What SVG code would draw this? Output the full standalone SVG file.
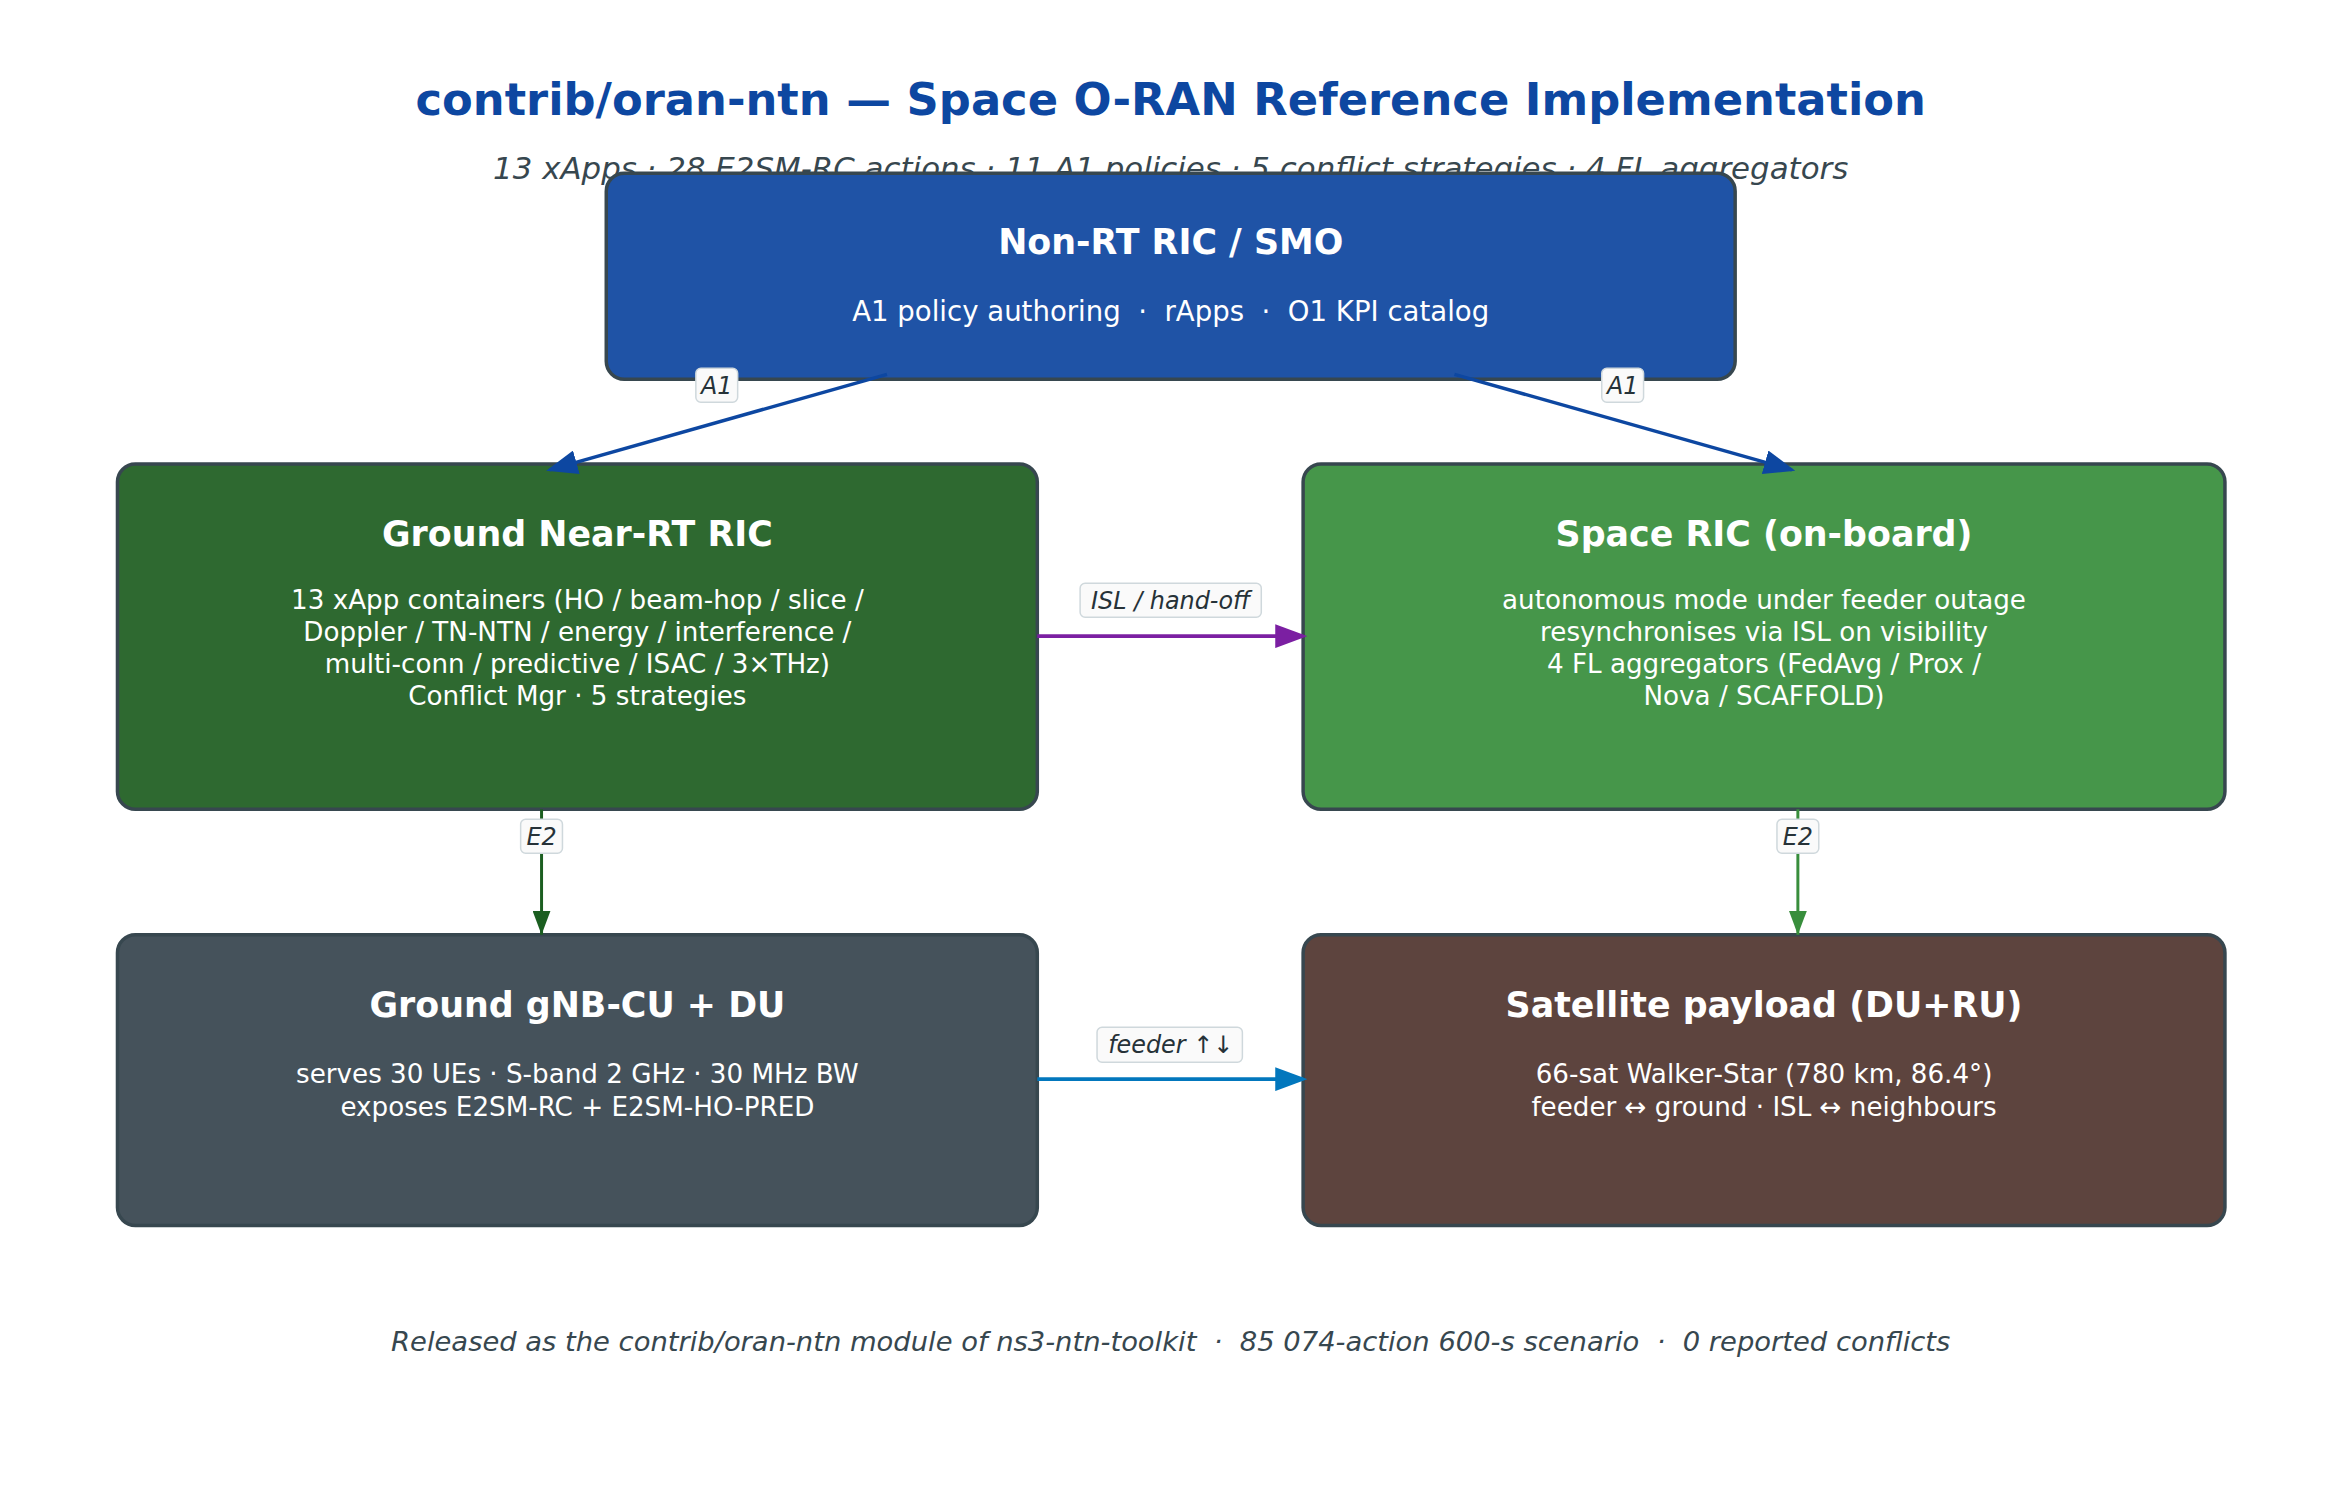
<svg xmlns="http://www.w3.org/2000/svg" width="2340" height="1494" viewBox="0 0 2340 1494">
<style>
text{font-family:"DejaVu Sans",sans-serif;text-anchor:middle}
.box{stroke:#37474f;stroke-width:3.5}
.h{fill:#fff;font-weight:bold;font-size:35px}
.b{fill:#fff;font-size:26.3px}
.lbl{fill:#fafafa;stroke:#cfd8dc;stroke-width:1.5}
.lt{font-style:italic;font-size:24px;fill:#263238}
</style>
<defs>
<marker id="mb" markerWidth="9" markerHeight="7" refX="8" refY="3.5" orient="auto" markerUnits="strokeWidth"><path d="M0,0L9,3.5L0,7z" fill="#0d47a1"/></marker>
<marker id="mp" markerWidth="8" markerHeight="6" refX="7" refY="3" orient="auto" markerUnits="strokeWidth"><path d="M0,0L8,3L0,6z" fill="#7b1fa2"/></marker>
<marker id="mc" markerWidth="8" markerHeight="6" refX="7" refY="3" orient="auto" markerUnits="strokeWidth"><path d="M0,0L8,3L0,6z" fill="#0277bd"/></marker>
<marker id="mg" markerWidth="8" markerHeight="6" refX="8" refY="3" orient="auto" markerUnits="strokeWidth"><path d="M0,0L8,3L0,6z" fill="#1b5e20"/></marker>
<marker id="mg2" markerWidth="8" markerHeight="6" refX="8" refY="3" orient="auto" markerUnits="strokeWidth"><path d="M0,0L8,3L0,6z" fill="#388e3c"/></marker>
</defs>
<rect width="2340" height="1494" fill="#fff"/>
<g transform="scale(0.9955)">
<text x="1176" y="116" style="font-weight:bold;font-size:45px;fill:#0d47a1">contrib/oran-ntn — Space O-RAN Reference Implementation</text>
<text x="1176" y="180" style="font-style:italic;font-size:31px;fill:#37474f">13 xApps · 28 E2SM-RC actions · 11 A1 policies · 5 conflict strategies · 4 FL aggregators</text>
<g id="nonrt"><rect class="box" x="609" y="174" width="1134" height="207" rx="18" fill="#1f53a6"/>
<text class="h" x="1176" y="255">Non-RT RIC / SMO</text>
<text class="b" x="1176" y="322" style="font-size:27.7px" xml:space="preserve">A1 policy authoring  ·  rApps  ·  O1 KPI catalog</text></g>
<g id="nearrt"><rect class="box" x="118" y="466" width="924" height="347" rx="18" fill="#2e6930"/>
<text class="h" x="580" y="548">Ground Near-RT RIC</text>
<text class="b" x="580" y="612">13 xApp containers (HO / beam-hop / slice /</text>
<text class="b" x="580" y="644">Doppler / TN-NTN / energy / interference /</text>
<text class="b" x="580" y="676">multi-conn / predictive / ISAC / 3×THz)</text>
<text class="b" x="580" y="708">Conflict Mgr · 5 strategies</text></g>
<g id="spaceric"><rect class="box" x="1309" y="466" width="926" height="347" rx="18" fill="#46964a"/>
<text class="h" x="1772" y="548">Space RIC (on-board)</text>
<text class="b" x="1772" y="612">autonomous mode under feeder outage</text>
<text class="b" x="1772" y="644">resynchronises via ISL on visibility</text>
<text class="b" x="1772" y="676">4 FL aggregators (FedAvg / Prox /</text>
<text class="b" x="1772" y="708">Nova / SCAFFOLD)</text></g>
<g id="gnb"><rect class="box" x="118" y="939" width="924" height="292" rx="18" fill="#45525b"/>
<text class="h" x="580" y="1022">Ground gNB-CU + DU</text>
<text class="b" x="580" y="1088">serves 30 UEs · S-band 2 GHz · 30 MHz BW</text>
<text class="b" x="580" y="1121">exposes E2SM-RC + E2SM-HO-PRED</text></g>
<g id="sat"><rect class="box" x="1309" y="939" width="926" height="292" rx="18" fill="#5d443e"/>
<text class="h" x="1772" y="1022">Satellite payload (DU+RU)</text>
<text class="b" x="1772" y="1088">66-sat Walker-Star (780 km, 86.4°)</text>
<text class="b" x="1772" y="1121">feeder ↔ ground · ISL ↔ neighbours</text></g>
<g id="connectors" fill="none">
<line x1="891" y1="376" x2="552" y2="472" stroke="#0d47a1" stroke-width="3.5" marker-end="url(#mb)"/>
<line x1="1461" y1="376" x2="1800" y2="472" stroke="#0d47a1" stroke-width="3.5" marker-end="url(#mb)"/>
<line x1="1042" y1="639" x2="1309" y2="639" stroke="#7b1fa2" stroke-width="4" marker-end="url(#mp)"/>
<line x1="1042" y1="1084" x2="1309" y2="1084" stroke="#0277bd" stroke-width="4" marker-end="url(#mc)"/>
<line x1="544" y1="813" x2="544" y2="939" stroke="#1b5e20" stroke-width="3" marker-end="url(#mg)"/>
<line x1="1806" y1="813" x2="1806" y2="939" stroke="#388e3c" stroke-width="3" marker-end="url(#mg2)"/>
<rect class="lbl" x="699" y="370" width="42" height="34" rx="5"/><text class="lt" x="720" y="396">A1</text>
<rect class="lbl" x="1609" y="370" width="42" height="34" rx="5"/><text class="lt" x="1630" y="396">A1</text>
<rect class="lbl" x="1085" y="586" width="182" height="34" rx="5"/><text class="lt" x="1176" y="612">ISL / hand-off</text>
<rect class="lbl" x="1102" y="1032" width="146" height="35" rx="5"/><text class="lt" x="1176" y="1058">feeder ↑↓</text>
<rect class="lbl" x="523" y="823" width="42" height="34" rx="5"/><text class="lt" x="544" y="849">E2</text>
<rect class="lbl" x="1785" y="823" width="42" height="34" rx="5"/><text class="lt" x="1806" y="849">E2</text>
</g>
<text x="1176" y="1357" style="font-style:italic;font-size:27.5px;fill:#37474f" xml:space="preserve">Released as the contrib/oran-ntn module of ns3-ntn-toolkit  ·  85 074-action 600-s scenario  ·  0 reported conflicts</text>
</g>
</svg>
